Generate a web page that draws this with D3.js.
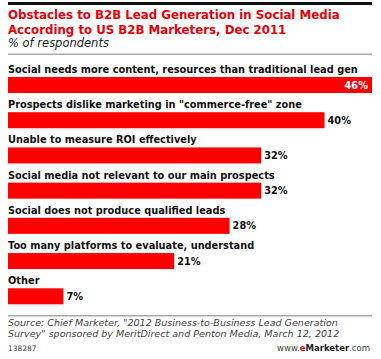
<!DOCTYPE html>
<html>
<head>
<meta charset="utf-8">
<script src="https://cdn.jsdelivr.net/npm/d3@7"></script>
<style>
  body { margin: 0; background: #fff; }
  svg { display: block; font-family: "DejaVu Sans", Verdana, sans-serif; }
</style>
</head>
<body>
<svg id="chart" width="381" height="359"></svg>
<script>
const categories = [
  "Social needs more content, resources than traditional lead gen",
  "Prospects dislike marketing in \"commerce-free\" zone",
  "Unable to measure ROI effectively",
  "Social media not relevant to our main prospects",
  "Social does not produce qualified leads",
  "Too many platforms to evaluate, understand",
  "Other"
];
const values = [46, 40, 32, 32, 28, 21, 7];
const titleLines = [
  "Obstacles to B2B Lead Generation in Social Media",
  "According to US B2B Marketers, Dec 2011"
];
const subtitle = "% of respondents";
const sourceLines = [
  "Source: Chief Marketer, \"2012 Business-to-Business Lead Generation",
  "Survey\" sponsored by MeritDirect and Penton Media, March 12, 2012"
];

const svg = d3.select("#chart");
const left = 8, right = 372;

// shrink/grow a text node's font so it spans the given width
function fitFont(sel, target) {
  const node = sel.node();
  const size = parseFloat(sel.attr("font-size"));
  const w = node.getComputedTextLength();
  const s = size * target / w;
  sel.attr("font-size", s);
  return s;
}

// header
svg.append("rect").attr("x", left).attr("y", 2).attr("width", right - left).attr("height", 3).attr("fill", "#111");
const titles = svg.selectAll("text.title")
  .data(titleLines)
  .enter()
  .append("text")
  .attr("class", "title")
  .attr("x", left)
  .attr("y", (d, i) => 19 + i * 14.5)
  .attr("font-size", 13)
  .attr("font-weight", "bold")
  .attr("fill", "#e8000b")
  .text(d => d);
const titleSize = fitFont(titles.filter((d, i) => i === 0), 332);
titles.attr("font-size", titleSize);

const sub = svg.append("text")
  .attr("x", left)
  .attr("y", 46.5)
  .attr("font-size", 11)
  .attr("font-style", "italic")
  .attr("fill", "#222")
  .text(subtitle);
fitFont(sub, 101);
svg.append("rect").attr("x", left).attr("y", 53.5).attr("width", right - left).attr("height", 1.5).attr("fill", "#aaa");

// bars
const x = d3.scaleLinear().domain([0, 46]).range([left, right]);
const y = d3.scaleBand().domain(d3.range(categories.length)).range([60, 306.5]);
const barH = 16;

const rows = svg.append("g").selectAll("g.row")
  .data(categories.map((c, i) => ({ label: c, value: values[i], i })))
  .enter()
  .append("g")
  .attr("class", "row")
  .attr("transform", d => `translate(0, ${y(d.i)})`);

const labels = rows.append("text")
  .attr("x", left)
  .attr("y", 13)
  .attr("font-size", 10)
  .attr("font-weight", "bold")
  .attr("fill", "#111")
  .text(d => d.label);
const labelSize = fitFont(labels.filter(d => d.i === 0), 350);
labels.attr("font-size", labelSize);

rows.append("rect")
  .attr("x", x(0))
  .attr("y", 17)
  .attr("width", d => x(d.value) - x(0))
  .attr("height", barH)
  .attr("fill", "#ff0000");

rows.append("text")
  .attr("x", d => d.value === 46 ? x(d.value) - 4 : x(d.value) + 3)
  .attr("y", 17 + barH / 2)
  .attr("dominant-baseline", "central")
  .attr("text-anchor", d => d.value === 46 ? "end" : "start")
  .attr("font-size", labelSize)
  .attr("font-weight", "bold")
  .attr("fill", d => d.value === 46 ? "#fff" : "#111")
  .text(d => d.value + "%");

// footer
svg.append("rect").attr("x", left).attr("y", 315).attr("width", right - left).attr("height", 1.5).attr("fill", "#aaa");
const src = svg.selectAll("text.source")
  .data(sourceLines)
  .enter()
  .append("text")
  .attr("class", "source")
  .attr("x", left)
  .attr("y", (d, i) => 326 + i * 10.5)
  .attr("font-size", 10)
  .attr("font-style", "italic")
  .attr("fill", "#444")
  .text(d => d);
const srcSize = fitFont(src.filter((d, i) => i === 1), 332);
src.attr("font-size", srcSize);

svg.append("text")
  .attr("x", left)
  .attr("y", 351)
  .attr("font-size", 7.5)
  .attr("fill", "#444")
  .text("138287");
const brand = svg.append("text")
  .attr("x", right - 2)
  .attr("y", 351)
  .attr("text-anchor", "end")
  .attr("font-size", 8.5)
  .attr("fill", "#444");
brand.append("tspan").text("www.");
brand.append("tspan").attr("font-weight", "bold").attr("fill", "#e8000b").text("e");
brand.append("tspan").attr("font-weight", "bold").attr("fill", "#222").text("Marketer");
brand.append("tspan").text(".com");
</script>
</body>
</html>
